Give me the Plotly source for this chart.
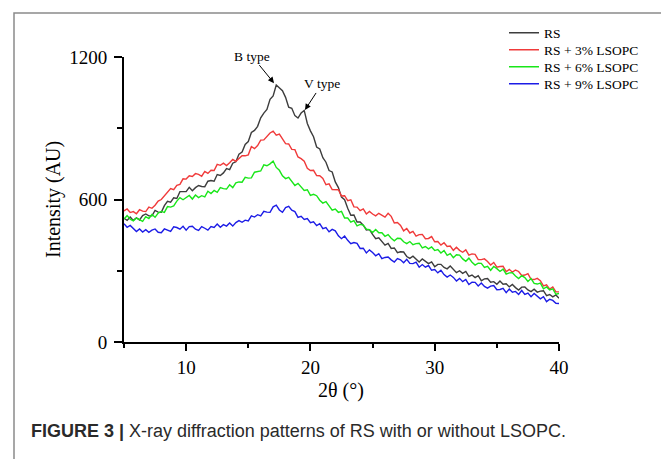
import plotly.graph_objects as go

# 2-theta sampling grid (degrees)
two_theta = [round(5 + 0.25 * i, 2) for i in range(141)]

rs = [521, 512, 526, 512, 523, 514, 532, 539, 531, 531,
      554, 547, 546, 574, 592, 589, 607, 604, 633, 634,
      633, 651, 637, 650, 659, 655, 654, 677, 680, 677,
      705, 701, 712, 730, 726, 753, 759, 791, 800, 832,
      844, 882, 891, 908, 944, 964, 979, 1022, 1036, 1082,
      1068, 1058, 1030, 989, 984, 953, 943, 964, 975, 920,
      889, 864, 821, 813, 776, 757, 722, 716, 674, 650,
      610, 599, 563, 534, 535, 505, 505, 492, 472, 473,
      453, 435, 439, 425, 408, 415, 394, 396, 376, 380,
      379, 360, 352, 361, 349, 337, 350, 341, 330, 337,
      317, 327, 327, 314, 308, 320, 306, 292, 300, 289,
      297, 276, 282, 271, 279, 258, 266, 267, 252, 254,
      243, 257, 243, 245, 232, 242, 229, 219, 231, 232,
      219, 212, 222, 210, 214, 216, 195, 200, 190, 198,
      184]

rs_3 = [552, 560, 545, 549, 540, 557, 551, 549, 568, 563,
        576, 593, 600, 616, 629, 646, 641, 660, 664, 687,
        686, 700, 697, 709, 706, 698, 718, 710, 723, 722,
        748, 744, 753, 743, 755, 769, 761, 771, 784, 784,
        788, 823, 814, 827, 850, 851, 868, 880, 888, 871,
        875, 857, 835, 834, 811, 810, 779, 772, 761, 731,
        722, 723, 701, 700, 689, 662, 666, 642, 640, 641,
        615, 616, 595, 599, 569, 568, 553, 560, 539, 550,
        539, 531, 542, 535, 526, 542, 529, 501, 503, 491,
        468, 478, 459, 466, 446, 452, 453, 435, 436, 444,
        422, 423, 408, 418, 402, 404, 386, 399, 386, 378,
        388, 366, 371, 369, 347, 347, 350, 339, 324, 335,
        315, 318, 319, 296, 306, 294, 303, 297, 280, 282,
        288, 264, 263, 268, 258, 236, 241, 223, 232, 211,
        211]

rs_6 = [518, 532, 517, 510, 522, 515, 508, 528, 520, 537,
        525, 543, 550, 546, 570, 568, 573, 593, 608, 599,
        608, 617, 602, 619, 608, 616, 611, 635, 625, 638,
        630, 650, 646, 644, 662, 650, 670, 674, 673, 693,
        690, 691, 715, 719, 720, 746, 742, 750, 762, 735,
        723, 700, 688, 693, 676, 659, 668, 654, 638, 641,
        617, 622, 616, 597, 585, 591, 573, 555, 560, 546,
        550, 522, 522, 505, 511, 489, 495, 492, 475, 473,
        461, 474, 460, 460, 445, 452, 437, 426, 437, 436,
        422, 414, 423, 410, 414, 416, 396, 402, 392, 400,
        385, 389, 375, 385, 365, 372, 355, 367, 366, 350,
        340, 353, 336, 324, 332, 331, 314, 319, 302, 318,
        309, 297, 307, 286, 291, 292, 278, 267, 279, 271,
        255, 267, 247, 244, 248, 224, 232, 219, 224, 201,
        204]

rs_9 = [498, 483, 491, 479, 465, 476, 463, 473, 462, 471,
        476, 462, 460, 476, 471, 466, 485, 482, 475, 487,
        471, 486, 487, 475, 470, 486, 479, 471, 486, 482,
        497, 483, 494, 488, 501, 488, 503, 511, 504, 513,
        510, 531, 526, 536, 531, 550, 547, 546, 569, 576,
        556, 546, 566, 571, 555, 549, 525, 529, 516, 520,
        502, 506, 490, 498, 477, 482, 464, 474, 468, 447,
        435, 446, 428, 414, 419, 415, 394, 395, 375, 388,
        377, 363, 372, 351, 356, 358, 346, 337, 351, 346,
        334, 348, 331, 330, 336, 315, 326, 315, 322, 302,
        305, 291, 302, 284, 273, 282, 272, 257, 268, 254,
        263, 242, 252, 251, 236, 248, 234, 227, 235, 238,
        220, 221, 226, 208, 223, 210, 213, 200, 217, 200,
        206, 191, 204, 192, 182, 191, 170, 180, 175, 163,
        162]

series_names = ["RS", "RS + 3% LSOPC", "RS + 6% LSOPC", "RS + 9% LSOPC"]
series_values = [rs, rs_3, rs_6, rs_9]
series_colors = ["#3d3d3d", "#f03a3a", "#19e619", "#1c1ce6"]

x_ticks = [10, 20, 30, 40]
y_ticks = [0, 600, 1200]

SERIF = "Liberation Serif, Times New Roman, serif"
SANS = "Liberation Sans, Arial, sans-serif"

# The page body has an 8px default margin; positions below are page pixels.
OFF = 8
PLOT_L, PLOT_R, PLOT_T, PLOT_B = 124, 559, 57, 342


def px_x(p):
    return (p - PLOT_L) / (PLOT_R - PLOT_L)


def px_y(p):
    return (PLOT_B - p) / (PLOT_B - PLOT_T)


legend_ids = ["legend", "legend2", "legend3", "legend4"]
legend_rows = [33, 50, 67, 84]

fig = go.Figure()
for name, vals, col, lid in zip(series_names, series_values, series_colors, legend_ids):
    fig.add_trace(go.Scatter(x=two_theta, y=vals, mode="lines", name=name, legend=lid,
                             line=dict(color=col, width=1.4)))

axis_common = dict(ticks="outside", tickwidth=2, tickcolor="black",
                   showline=True, linewidth=2, linecolor="black",
                   showgrid=False, zeroline=False,
                   tickfont=dict(family=SERIF, size=19, color="black"))

W, H = 669 - OFF, 459 - OFF
fig.update_layout(
    width=W, height=H,
    margin=dict(l=PLOT_L - OFF, r=W - (PLOT_R - OFF), t=PLOT_T - OFF, b=H - (PLOT_B - OFF),
                autoexpand=False),
    paper_bgcolor="white", plot_bgcolor="white",
    showlegend=True,
    xaxis=dict(range=[5, 40], tickvals=x_ticks, ticklen=7,
               minor=dict(tickvals=[5, 15, 25, 35], ticks="outside", ticklen=4,
                          tickwidth=2, tickcolor="black", showgrid=False),
               **axis_common),
    yaxis=dict(range=[0, 1200], tickvals=y_ticks, ticklen=8, ticklabelstandoff=3,
               minor=dict(tickvals=[300, 900], ticks="outside", ticklen=5,
                          tickwidth=2, tickcolor="black", showgrid=False),
               **axis_common),
)

for lid, row in zip(legend_ids, legend_rows):
    fig.update_layout({lid: dict(x=px_x(504), y=px_y(row), xanchor="left", yanchor="middle",
                                 font=dict(family=SERIF, size=13.5, color="black"),
                                 bgcolor="rgba(0,0,0,0)", borderwidth=0, itemwidth=30)})

annotations = [
    dict(text="2θ (°)", x=px_x(341), y=px_y(390), xref="paper", yref="paper",
         showarrow=False, xanchor="center", yanchor="middle",
         font=dict(family=SERIF, size=20, color="black")),
    dict(text="Intensity (AU)", x=px_x(53), y=px_y(200), xref="paper", yref="paper",
         showarrow=False, xanchor="center", yanchor="middle", textangle=-90,
         font=dict(family=SERIF, size=20, color="black")),
    dict(text="<b>FIGURE 3 |</b> X-ray diffraction patterns of RS with or without LSOPC.",
         x=px_x(29), y=px_y(431), xref="paper", yref="paper",
         showarrow=False, xanchor="left", yanchor="middle",
         font=dict(family=SANS, size=18, color="#2a2a2a")),
    dict(text="B type", x=17.07, y=1090, xref="x", yref="y", ax=-22, ay=-27,
         showarrow=True, arrowhead=2, arrowsize=1.2, arrowwidth=1, arrowcolor="black",
         font=dict(family=SERIF, size=13.5, color="black")),
    dict(text="V type", x=19.56, y=977, xref="x", yref="y", ax=17, ay=-26,
         showarrow=True, arrowhead=2, arrowsize=1.2, arrowwidth=1, arrowcolor="black",
         font=dict(family=SERIF, size=13.5, color="black")),
]
fig.update_layout(annotations=annotations)

fig.add_shape(type="rect", xref="paper", yref="paper",
              x0=px_x(14), x1=px_x(666), y0=px_y(480), y1=px_y(13),
              line=dict(color="#8a8a8a", width=1.5), fillcolor="rgba(0,0,0,0)", layer="above")

fig.write_html("out.html")
